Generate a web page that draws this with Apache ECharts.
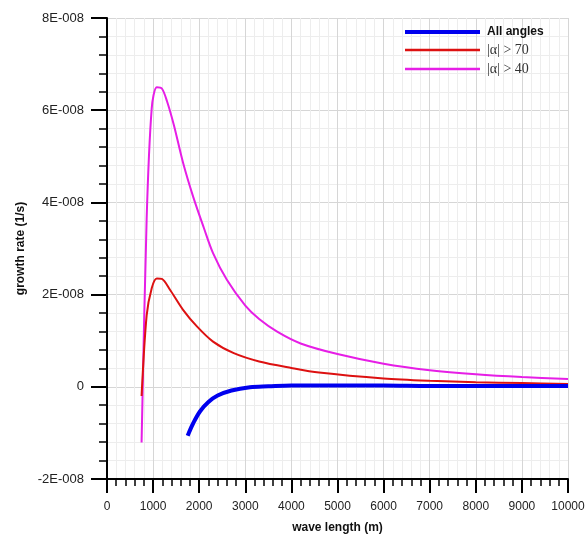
<!DOCTYPE html>
<html>
<head>
<meta charset="utf-8">
<script src="https://cdn.jsdelivr.net/npm/echarts@6/dist/echarts.min.js"></script>
<style>html,body{margin:0;padding:0;background:#fff}#c{width:585px;height:535px}</style>
</head>
<body>
<div id="c"></div>
<script>
// growth rate values are in units of 1E-008 (1/s)
const xTicks = [0,1000,2000,3000,4000,5000,6000,7000,8000,9000,10000];
const yTicks = [-2,0,2,4,6,8];

const allX = [1750,1870,2020,2200,2400,2700,3100,3500,4000,5000,6000,7000,8000,9000,10000];
const allY = [-1.06,-0.79,-0.53,-0.33,-0.19,-0.08,-0.01,0.01,0.03,0.03,0.03,0.02,0.02,0.02,0.02];

const a70X = [750,860,970,1080,1190,1370,1650,1950,2300,2750,3300,4000,4600,6000,7000,8000,9000,10000];
const a70Y = [-0.20,1.55,2.14,2.35,2.34,2.10,1.67,1.31,0.98,0.73,0.55,0.41,0.31,0.18,0.13,0.10,0.08,0.06];

const a40X = [750,860,970,1080,1190,1300,1450,1650,1870,2100,2300,2600,3000,3300,3700,4200,5000,6000,7000,8000,9000,10000];
const a40Y = [-1.21,3.64,6.04,6.50,6.47,6.20,5.68,4.86,4.12,3.45,2.90,2.32,1.76,1.47,1.19,0.94,0.71,0.50,0.36,0.27,0.21,0.17];

const zip = (xs, ys) => xs.map((x, i) => [x, ys[i]]);

const BLUE = '#0000ee', RED = '#dd1111', MAG = '#e61ee6';

const chart = echarts.init(document.getElementById('c'));
const labelFont = {fontFamily: 'Liberation Sans', fontSize: 12, color: '#222'};
chart.setOption({
  animation: false,
  grid: {left: 107, right: 17, top: 18, bottom: 56, containLabel: false, outerBoundsMode: 'none'},
  legend: {
    orient: 'vertical', left: 398, top: 21,
    itemWidth: 75, itemHeight: 14, itemGap: 5,
    itemStyle: {color: 'rgba(0,0,0,0)', borderWidth: 0, borderColor: 'rgba(0,0,0,0)'},
    data: [
      {name: 'All angles', lineStyle: {width: 4, color: BLUE}},
      {name: '|α| > 70', lineStyle: {width: 2.5, color: RED}},
      {name: '|α| > 40', lineStyle: {width: 2.5, color: MAG}}
    ],
    formatter: n => n === 'All angles' ? '{b|' + n + '}' : '{s|' + n + '}',
    textStyle: {
      padding: [0, 0, 0, 2],
      rich: {
        b: {fontFamily: 'Liberation Sans', fontWeight: 'bold', fontSize: 12, color: '#111'},
        s: {fontFamily: 'Liberation Serif', fontSize: 14, color: '#333'}
      }
    }
  },
  xAxis: {
    type: 'value', min: xTicks[0], max: xTicks[xTicks.length - 1], interval: 1000,
    name: 'wave length (m)', nameLocation: 'middle', nameGap: 43,
    nameTextStyle: {fontFamily: 'Liberation Sans', fontWeight: 'bold', fontSize: 12, color: '#111'},
    axisLine: {show: true, onZero: false, lineStyle: {color: '#000', width: 2}},
    axisTick: {show: true, length: 14, lineStyle: {color: '#000', width: 2}},
    minorTick: {show: true, splitNumber: 5, length: 7, lineStyle: {color: '#000', width: 1.5}},
    axisLabel: Object.assign({margin: 22, formatter: v => String(v)}, labelFont),
    splitLine: {show: true, lineStyle: {color: '#d6d6d6', width: 1}},
    minorSplitLine: {show: true, lineStyle: {color: '#ededed', width: 1}}
  },
  yAxis: {
    type: 'value', min: yTicks[0], max: yTicks[yTicks.length - 1], interval: 2,
    name: 'growth rate (1/s)', nameLocation: 'middle', nameGap: 78,
    nameTextStyle: {fontFamily: 'Liberation Sans', fontWeight: 'bold', fontSize: 12, color: '#111'},
    axisLine: {show: true, onZero: false, lineStyle: {color: '#000', width: 2}},
    axisTick: {show: true, length: 16, lineStyle: {color: '#000', width: 2}},
    minorTick: {show: true, splitNumber: 5, length: 8, lineStyle: {color: '#000', width: 1.5}},
    axisLabel: Object.assign({}, labelFont, {margin: 23, fontSize: 13, formatter: v => v === 0 ? '0' : v + 'E-008'}),
    splitLine: {show: true, lineStyle: {color: '#d6d6d6', width: 1}},
    minorSplitLine: {show: true, lineStyle: {color: '#ededed', width: 1}}
  },
  series: [
    {name: 'All angles', type: 'line', data: zip(allX, allY), symbol: 'none', smooth: 0.35,
     lineStyle: {color: BLUE, width: 4}, itemStyle: {color: BLUE}, z: 4},
    {name: '|α| > 70', type: 'line', data: zip(a70X, a70Y), symbol: 'none', smooth: 0.3,
     lineStyle: {color: RED, width: 2}, itemStyle: {color: RED}, z: 3},
    {name: '|α| > 40', type: 'line', data: zip(a40X, a40Y), symbol: 'none', smooth: 0.3,
     lineStyle: {color: MAG, width: 2}, itemStyle: {color: MAG}, z: 2}
  ]
});
</script>
</body>
</html>
